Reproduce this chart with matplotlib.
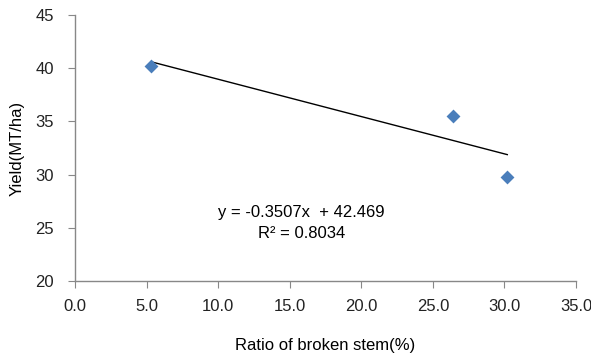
import matplotlib
matplotlib.use("Agg")
import matplotlib.pyplot as plt
import numpy as np

plt.rcParams['font.family'] = ['Liberation Sans', 'DejaVu Sans']

x_vals = [5.3, 26.4, 30.2]
y_vals = [40.2, 35.5, 29.8]
slope = -0.3507
intercept = 42.469
r2 = 0.8034
x_ticks = [0.0, 5.0, 10.0, 15.0, 20.0, 25.0, 30.0, 35.0]
y_ticks = [20, 25, 30, 35, 40, 45]

fig = plt.figure(figsize=(5.91, 3.57), dpi=100)
ax = fig.add_axes([75/591, 1-281/357, (576-75)/591, (281-15)/357])

xs = np.array([min(x_vals), max(x_vals)])
ax.plot(xs, slope*xs + intercept, color='black', lw=1.0, zorder=2)
ax.scatter(x_vals, y_vals, marker='D', s=50, color='#4a7ebb', zorder=3, linewidths=0)

ax.set_xlim(0, 35)
ax.set_ylim(20, 45)
ax.set_xticks(x_ticks)
ax.set_xticklabels([f"{t:.1f}" for t in x_ticks])
ax.set_yticks(y_ticks)
for s in ['top', 'right']:
    ax.spines[s].set_visible(False)
for s in ['left', 'bottom']:
    ax.spines[s].set_color('#888888')
    ax.spines[s].set_linewidth(1.0)
ax.tick_params(direction='out', length=5, color='#888888', labelsize=12, labelcolor='#222222')
ax.tick_params(axis='x', pad=8)
ax.tick_params(axis='y', pad=10)

ax.set_xlabel('Ratio of broken stem(%)', fontsize=12, labelpad=17)
ax.set_ylabel('Yield(MT/ha)', fontsize=12, labelpad=8)

ax.text(15.8, 26.4, f"y = {slope}x  + {intercept}", ha='center', va='center', fontsize=12)
ax.text(15.8, 24.5, f"R² = {r2}", ha='center', va='center', fontsize=12)

fig.savefig('out.png', dpi=100)
